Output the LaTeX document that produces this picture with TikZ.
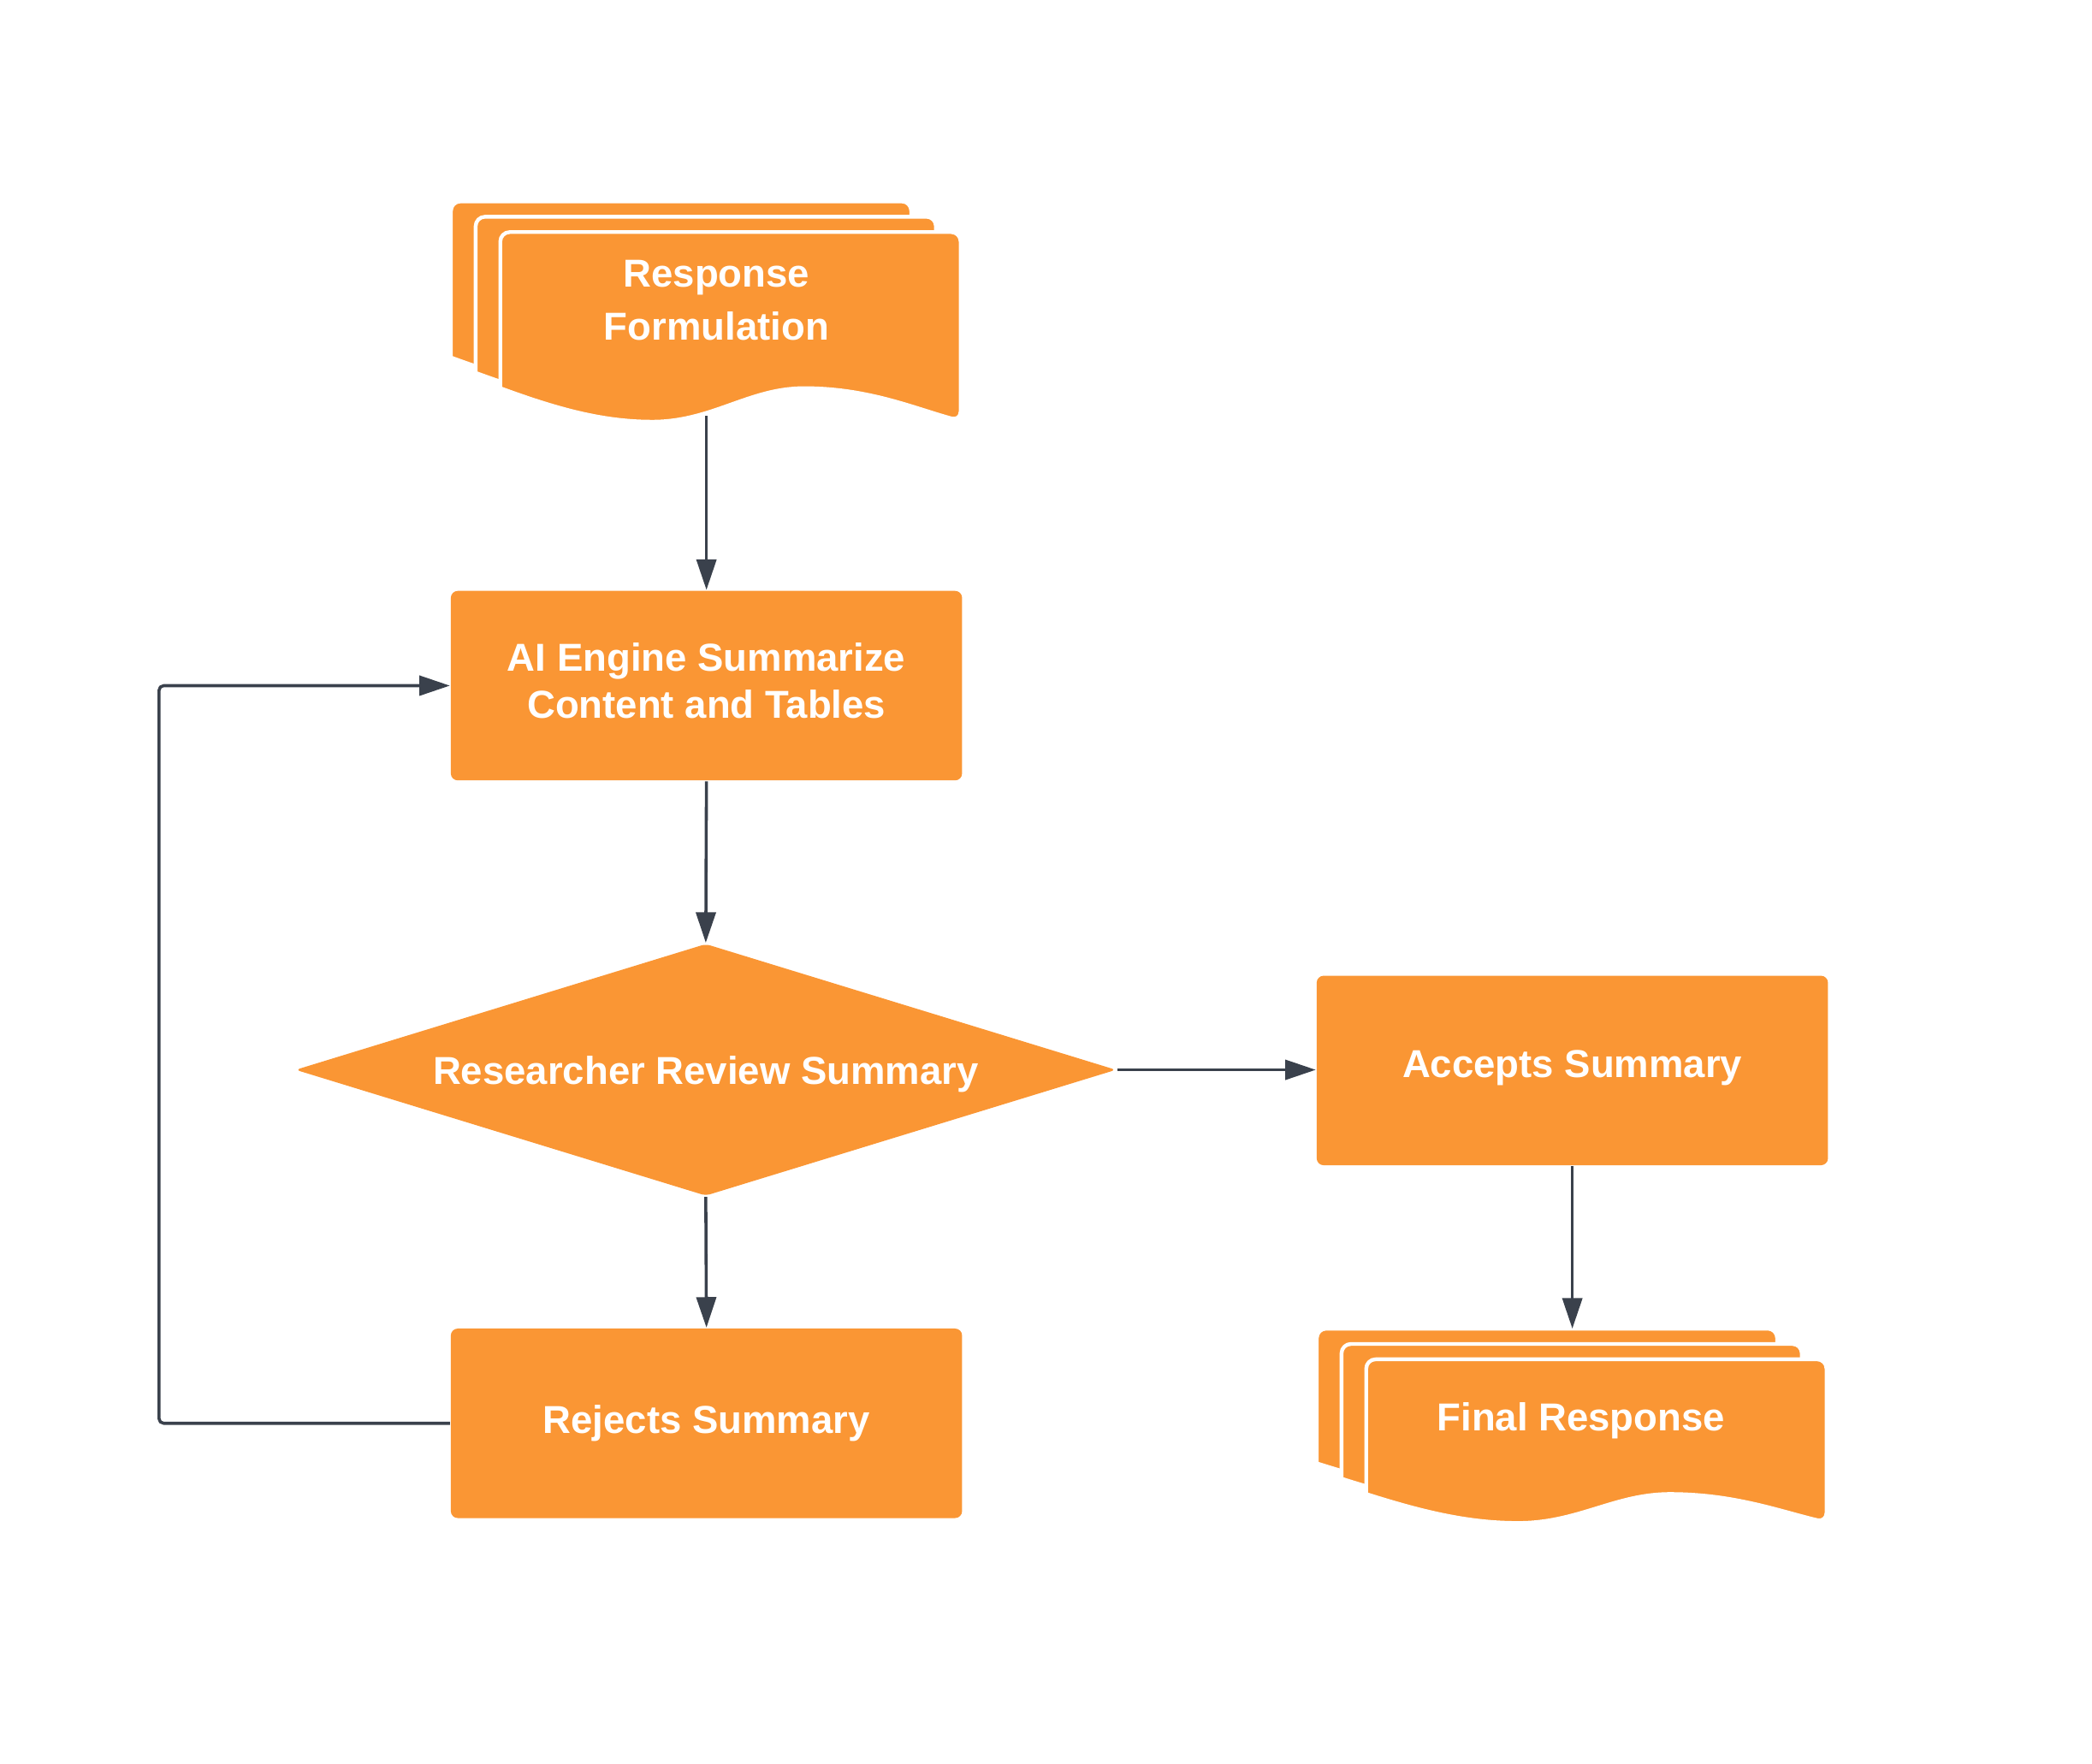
\documentclass[tikz,border=0pt]{standalone}
\usepackage{fontspec}
\setmainfont{Liberation Sans}
\usetikzlibrary{shapes.geometric,arrows.meta}
\definecolor{lucidorange}{RGB}{250,150,52}
\definecolor{linegray}{RGB}{58,65,76}
\tikzset{
	box/.style={rectangle, rounded corners=1.5pt, fill=lucidorange, text=white, minimum width=3.83cm, minimum height=1.42cm, align=center},
	decision/.style={diamond, aspect=3.25, fill=lucidorange, text=white, minimum width=6.15cm, minimum height=1.89cm, inner sep=0pt, rounded corners=1pt, text depth=0pt},
	doctext/.style={text=white, align=center},
	flow/.style={-{Triangle[length=6.5pt,width=4.2pt]}, draw=linegray, line width=.65pt},
	sheet/.style={fill=lucidorange, draw=white, line width=.8pt},
}
% one page of a stack: left, top, height
\newcommand{\docsheet}[3]{%
	\filldraw[sheet,rounded corners=2pt] (#1,#2+#3) -- (#1,#2) -- (#1+345,#2) -- (#1+345,#2+1.21*#3) [sharp corners]
		.. controls (#1+0.9*345,#2+1.13*#3) and (#1+0.8*345,#2+#3) .. (#1+0.66*345,#2+#3)
		.. controls (#1+0.54*345,#2+#3) and (#1+0.46*345,#2+1.215*#3) .. (#1+0.33*345,#2+1.215*#3)
		.. controls (#1+0.22*345,#2+1.215*#3) and (#1+0.12*345,#2+1.13*#3) .. (#1,#2+#3) -- cycle;}
% three pages: left, top, height
\newcommand{\docstack}[3]{%
	\docsheet{#1}{#2}{#3}
	\docsheet{#1+18.5}{#2+11.5}{#3}
	\docsheet{#1+37}{#2+23}{#3}}
\begin{document}
\begin{tikzpicture}[x=.01cm,y=-.01cm, font=\bfseries\fontsize{8.3}{10}\selectfont, line join=round]
	\useasboundingbox (0,0) rectangle (1568,1322);
	% stacks of pages
	\docstack{338}{151}{117}
	\docstack{987}{996}{101}
	\node[doctext, font=\bfseries\fontsize{8.3}{11.4}\selectfont] (resp) at (537,225) {Response\\Formulation};
	\node[doctext] (final) at (1185,1065) {Final Response};
	\coordinate (respout) at (529.5,312);
	\coordinate (finalin) at (1178.5,996);
	% steps
	\node[box, text depth=2.3pt] (ai) at (529.5,514) {AI Engine Summarize\\Content and Tables};
	\node[decision] (rev) at (529,802) {Researcher Review Summary};
	\node[box, text depth=2.9pt] (acc) at (1178.5,802.5) {Accepts Summary};
	\node[box] (rej) at (529.5,1067) {Rejects Summary};
	% connectors
	\draw[flow] (respout) -- (ai.north);
	\draw[flow] (ai.south) -- (rev.north);
	\draw[flow] (rev.east) -- (rev.east -| acc.west);
	\draw[flow] (acc.south) -- (finalin);
	\draw[flow] (rev.south) -- (rej.north);
	\draw[flow, rounded corners=1pt] (rej.west) -- ++(-218,0) |- (ai.west);
\end{tikzpicture}
\end{document}
